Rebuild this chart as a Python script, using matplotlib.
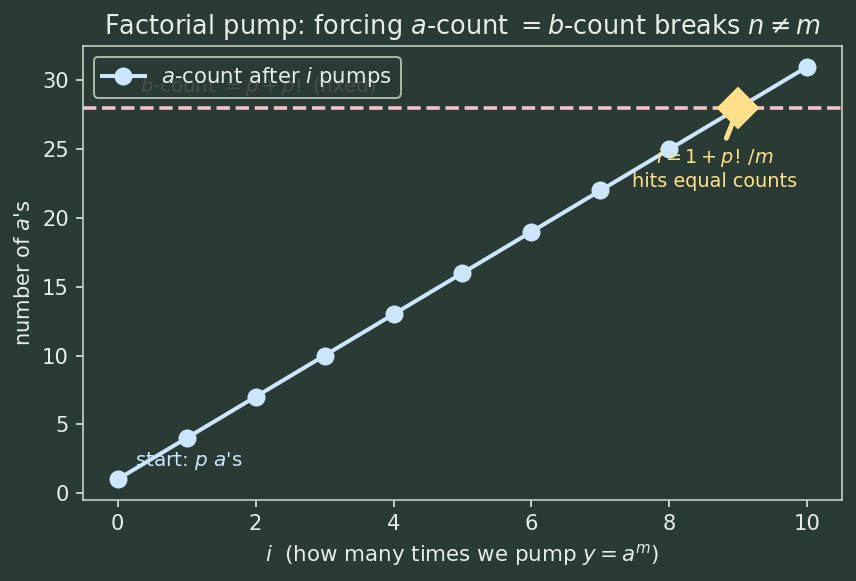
import matplotlib.pyplot as plt

# data: a-count grows by m=3 per pump, b-count fixed at p + p!
pumps = [0, 1, 2, 3, 4, 5, 6, 7, 8, 9, 10]
a_counts = [1, 4, 7, 10, 13, 16, 19, 22, 25, 28, 31]
b_count = 28
hit_i = 9

BG = '#2a3a34'
FG = '#e6eee6'
BLUE = '#cce6ff'
PINK = '#f5c2c8'
GOLD = '#ffe08a'

plt.rcParams['font.family'] = ['DejaVu Sans']

fig, ax = plt.subplots(figsize=(856 / 144, 581 / 144), dpi=144)
fig.patch.set_facecolor(BG)
ax.set_facecolor(BG)

ax.plot(pumps, a_counts, color=BLUE, linewidth=2, marker='o', markersize=8,
        label='$a$-count after $i$ pumps', zorder=3)
ax.axhline(b_count, color=PINK, linestyle='--', linewidth=1.8, zorder=2)
# sits behind the legend, so it shows through dimly
ax.text(0.33, b_count + 1.55, '$b$-count $= p + p!$ (fixed)', color=PINK,
        fontsize=9.8, va='center', ha='left', zorder=1, alpha=0.75)

ax.plot([hit_i], [b_count], marker='D', markersize=14, color=GOLD, zorder=4)
ax.annotate('$i = 1 + p!\\,/m$\nhits equal counts', xy=(hit_i, b_count),
            xytext=(8.65, 23.6), color=GOLD, fontsize=9.6, ha='center',
            va='center', zorder=5,
            arrowprops=dict(arrowstyle='-', color=GOLD, lw=2.5, shrinkA=2, shrinkB=0))

ax.text(0.25, 2.3, "start: $p$ $a$'s", color=BLUE, fontsize=10,
        ha='left', va='center')

ax.set_title('Factorial pump: forcing $a$-count $= b$-count breaks $n \\neq m$',
             color=FG, fontsize=12.8)
ax.set_xlabel('$i$  (how many times we pump $y = a^m$)', color=FG, fontsize=10.7)
ax.set_ylabel("number of $a$'s", color=FG, fontsize=10.5)

for s in ax.spines.values():
    s.set_color('#c8d6c8')
ax.tick_params(colors=FG, labelsize=10.5)

leg = ax.legend(loc='upper left', facecolor=BG, edgecolor='#c8d6c8',
                labelcolor=FG, fontsize=10.6, framealpha=0.8)
leg.set_zorder(6)

fig.subplots_adjust(left=0.097, right=0.9836, top=0.9208, bottom=0.1394)
fig.savefig('out.png', dpi=144, facecolor=BG)
